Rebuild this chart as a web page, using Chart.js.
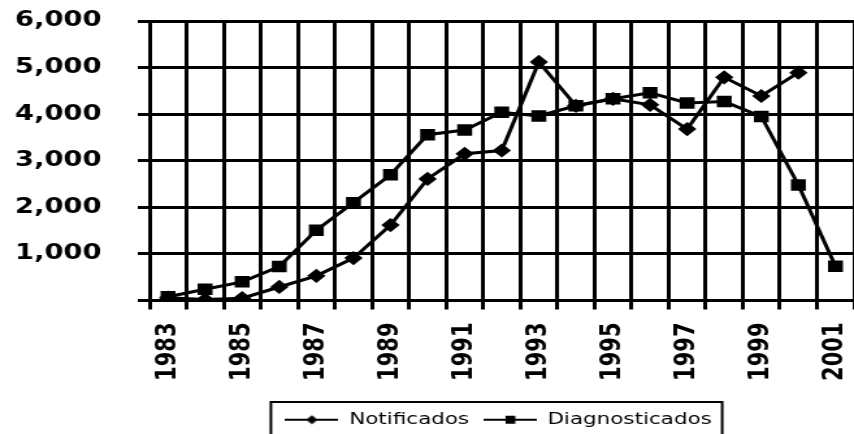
<!DOCTYPE html>
<html><head><meta charset="utf-8">
<script src="https://cdn.jsdelivr.net/npm/chart.js@4/dist/chart.umd.min.js"></script>
<style>
html,body{margin:0;padding:0;background:#fff;overflow:hidden}
</style>
</head><body>
<canvas id="c" width="657" height="434" style="display:block;width:854px;height:434px"></canvas>
<script>
const years = ['1983','1984','1985','1986','1987','1988','1989','1990','1991','1992','1993','1994','1995','1996','1997','1998','1999','2000','2001'];
const notificados = [60, 20, 50, 290, 530, 910, 1620, 2610, 3150, 3220, 5120, 4180, 4330, 4200, 3680, 4790, 4390, 4890, null];
const diagnosticados = [80, 240, 400, 730, 1510, 2100, 2700, 3560, 3660, 4040, 3960, 4180, 4330, 4460, 4240, 4270, 3950, 2480, 735];
const seriesNames = ['Notificados', 'Diagnosticados'];
const yMax = 6000;
const yStep = 1000;

const FONT = 'DejaVu Sans';

function legendIcon(kind) {
  const c = document.createElement('canvas');
  c.width = 41; c.height = 12;
  const g = c.getContext('2d');
  g.strokeStyle = '#000'; g.lineWidth = 2;
  g.beginPath(); g.moveTo(0, 6); g.lineTo(41, 6); g.stroke();
  g.fillStyle = '#000';
  g.beginPath();
  if (kind === 'diamond') {
    g.moveTo(20.5, 1.5); g.lineTo(25, 6); g.lineTo(20.5, 10.5); g.lineTo(16, 6); g.closePath();
  } else {
    g.rect(17, 2, 7.5, 8);
  }
  g.fill();
  return c;
}
const icons = [legendIcon('diamond'), legendIcon('square')];

const legendBox = {
  id: 'legendBox',
  afterLayout(chart, args, opts) {
    const lg = chart.legend;
    if (!lg) return;
    lg.left += opts.shift;
    lg.right += opts.shift;
  },
  afterDraw(chart, args, opts) {
    const hb = chart.legend && chart.legend.legendHitBoxes;
    if (!hb || !hb.length) return;
    let l = Infinity, r = -Infinity, t = Infinity, b = -Infinity;
    hb.forEach(h => { l = Math.min(l, h.left); r = Math.max(r, h.left + h.width); t = Math.min(t, h.top); b = Math.max(b, h.top + h.height); });
    const ctx = chart.ctx;
    ctx.save();
    ctx.strokeStyle = '#000';
    ctx.lineWidth = 2;
    ctx.strokeRect(l - opts.padLeft, t - opts.padY, (r - l) + opts.padLeft + opts.padRight, (b - t) + 2 * opts.padY);
    ctx.restore();
  }
};

new Chart(document.getElementById('c'), {
  type: 'line',
  data: {
    labels: years,
    datasets: [
      { label: seriesNames[0], data: notificados, borderColor: '#000', backgroundColor: '#000', borderWidth: 3,
        pointStyle: 'rectRot', pointRadius: 5, pointBackgroundColor: '#000', pointBorderColor: '#000', tension: 0 },
      { label: seriesNames[1], data: diagnosticados, borderColor: '#000', backgroundColor: '#000', borderWidth: 3,
        pointStyle: 'rect', pointRadius: 6, pointBackgroundColor: '#000', pointBorderColor: '#000', tension: 0 }
    ]
  },
  options: {
    responsive: false,
    devicePixelRatio: 1,
    animation: false,
    layout: { autoPadding: false, padding: { left: 12, right: 0, top: 0, bottom: -4 } },
    plugins: {
      tooltip: { enabled: false },
      legend: {
        position: 'bottom',
        labels: {
          usePointStyle: true,
          pointStyleWidth: 41,
          padding: 11,
          color: '#000',
          font: { family: FONT, size: 16.5 },
          generateLabels(chart) {
            return Chart.defaults.plugins.legend.labels.generateLabels(chart).map((it, i) => Object.assign(it, { pointStyle: icons[i] }));
          }
        }
      },
      legendBox: { shift: 49, padLeft: 11, padRight: 8, padY: 9.5 }
    },
    scales: {
      x: {
        offset: true,
        grid: { offset: true, color: '#000', lineWidth: 3, tickLength: 9 },
        border: { color: '#000', width: 3 },
        ticks: {
          autoSkip: false, minRotation: 90, maxRotation: 90, padding: 13, color: '#000',
          font: { family: FONT, size: 21, weight: 'bold' },
          callback: (v, i) => (i % 2 === 0 ? years[i] : '')
        },
        afterFit(scale) { scale.height = 100; scale.paddingLeft = 0; scale.paddingRight = 0; }
      },
      y: {
        min: 0, max: yMax,
        grid: { color: '#000', lineWidth: 3, tickLength: 9 },
        border: { color: '#000', width: 3 },
        ticks: {
          stepSize: yStep, padding: 28, color: '#000',
          font: { family: FONT, size: 21, weight: 'bold' },
          callback: v => (v === 0 ? '' : v.toLocaleString('en-US'))
        },
        afterFit(scale) { scale.width = 103; scale.paddingTop = 21; scale.paddingBottom = 0; }
      }
    }
  },
  plugins: [legendBox]
});
</script>
</body></html>
